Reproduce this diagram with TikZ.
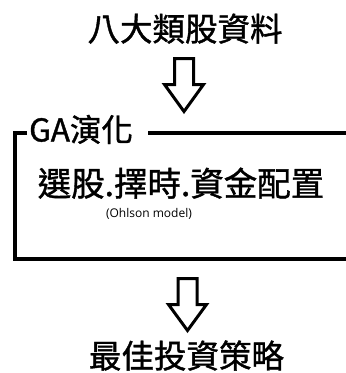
\documentclass[tikz,border=0pt]{standalone}
\usepackage{fontspec}
\setmainfont{Noto Sans CJK TC}[FakeBold=1.2]
\newfontfamily\latinsans{Open Sans}
\begin{document}
\begin{tikzpicture}[x=1pt,y=-1pt,
  txt/.style={inner sep=0pt,anchor=base,text=black},
  big/.style={txt,font=\fontsize{32.5}{32}\selectfont},
  mid/.style={txt,font=\fontsize{33.5}{33}\selectfont},
  small/.style={txt,font=\latinsans\fontsize{12}{12}\selectfont},
  blockarrow/.style={draw=black,line width=3pt,line join=miter,fill=white},
  frame/.style={draw=black,line width=4.5pt,line cap=butt,line join=miter}]
\useasboundingbox (0,0) rectangle (346,373);
% texts
\node[big] (src) at (185,41) {八大類股資料};
\node[txt,font=\fontsize{31.5}{31}\selectfont,anchor=base west] (ga) at (29,141.5) {GA演化};
\node[mid] (main) at (181,196) {選股.擇時.資金配置};
\node[small] (ohlson) at (149,217.5) {(Ohlson model)};
\node[big] (dst) at (186.5,368) {最佳投資策略};
% frame
\draw[frame] (27,133) -- (15,133) -- (15,259) -- (346,259);
\draw[frame] (148,133) -- (346,133);
% top arrow
\coordinate (a1) at (184,58.5);
\begin{scope}[shift={(a1)}]
\draw[blockarrow] (-9.5,0) -- (-9.5,26) -- (-19.5,26) -- (0,53) -- (19.5,26) -- (9.5,26) -- (9.5,0) -- cycle;
\end{scope}
% bottom arrow
\coordinate (a2) at (187.5,278.5);
\begin{scope}[shift={(a2)}]
\draw[blockarrow] (-9.5,0) -- (-9.5,26) -- (-19,26) -- (0,52) -- (19,26) -- (9.5,26) -- (9.5,0) -- cycle;
\end{scope}
\end{tikzpicture}
\end{document}
